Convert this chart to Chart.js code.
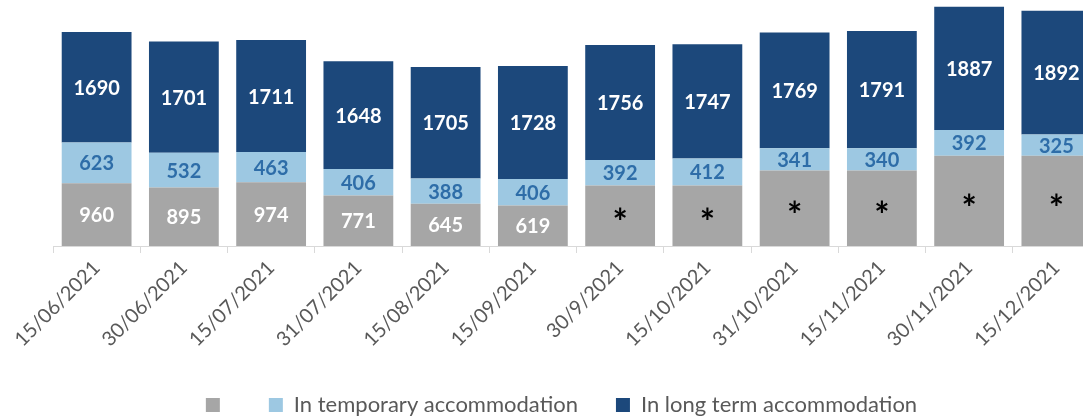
<!DOCTYPE html>
<html>
<head>
<meta charset="utf-8">
<script src="https://cdn.jsdelivr.net/npm/chart.js@4.4.1/dist/chart.umd.min.js"></script>
<style>
  html, body { margin: 0; padding: 0; background: #ffffff; overflow: hidden; }
  #wrap { position: relative; width: 1125px; height: 418px; }
</style>
</head>
<body>
<div id="wrap"><canvas id="c"></canvas></div>
<script>
const categories = ["15/06/2021","30/06/2021","15/07/2021","31/07/2021","15/08/2021","15/09/2021","30/9/2021","15/10/2021","31/10/2021","15/11/2021","30/11/2021","15/12/2021"];
const seriesNames = ["", "In temporary accommodation", "In long term accommodation"];
// grey series: last six values suppressed (shown as *) – heights
const greyValues = [960, 895, 974, 771, 645, 619, 925, 925, 1155, 1155, 1380, 1380];
const greyLabels = ["960","895","974","771","645","619","*","*","*","*","*","*"];
const temporaryValues = [623, 532, 463, 406, 388, 406, 392, 412, 341, 340, 392, 325];
const longTermValues = [1690, 1701, 1711, 1648, 1705, 1728, 1756, 1747, 1769, 1791, 1887, 1892];

const FONT = "Lato, 'Open Sans', sans-serif";

const labelPlugin = {
  id: 'barLabels',
  afterLayout(chart) {
    // nudge the centred legend row slightly left, as in the original
    chart.legend.left -= 15;
    chart.legend.right -= 15;
  },
  afterDatasetsDraw(chart) {
    const ctx = chart.ctx;
    ctx.save();
    ctx.textAlign = 'center';
    ctx.textBaseline = 'middle';
    chart.data.datasets.forEach((ds, di) => {
      const meta = chart.getDatasetMeta(di);
      meta.data.forEach((bar, i) => {
        const txt = ds.valueLabels[i];
        const cy = (bar.y + bar.base) / 2;
        if (txt === '*') {
          ctx.fillStyle = '#000000';
          ctx.font = "bold 36px " + FONT;
          ctx.fillText(txt, bar.x, cy + 8);
        } else {
          ctx.fillStyle = ds.labelColor;
          ctx.font = "bold 20px " + FONT;
          ctx.fillText(txt, bar.x, cy + 1);
        }
      });
    });
    ctx.restore();
  }
};

new Chart(document.getElementById('c'), {
  type: 'bar',
  data: {
    labels: categories,
    datasets: [
      { label: seriesNames[0], data: greyValues, valueLabels: greyLabels, backgroundColor: '#a6a6a6', labelColor: '#ffffff' },
      { label: seriesNames[1], data: temporaryValues, valueLabels: temporaryValues.map(String), backgroundColor: '#9dc8e2', labelColor: '#2e6da8' },
      { label: seriesNames[2], data: longTermValues, valueLabels: longTermValues.map(String), backgroundColor: '#1c487b', labelColor: '#ffffff' }
    ]
  },
  options: {
    responsive: true,
    maintainAspectRatio: false,
    animation: false,
    devicePixelRatio: 1,
    layout: { padding: { left: 53, right: 25, top: 4, bottom: -8 } },
    datasets: { bar: { barPercentage: 0.8, categoryPercentage: 1.0 } },
    plugins: {
      tooltip: { enabled: false },
      legend: {
        position: 'bottom',
        labels: {
          boxWidth: 14, boxHeight: 14, padding: 38,
          color: '#595959',
          font: { family: FONT, size: 22 }
        }
      }
    },
    scales: {
      x: {
        stacked: true,
        afterFit(scale) { scale.height += 1.6; },
        grid: { display: true, drawOnChartArea: false, offset: true, color: '#d9d9d9', tickLength: 7, tickColor: '#d9d9d9' },
        border: { display: true, color: '#d9d9d9', width: 1 },
        ticks: { color: '#595959', font: { family: FONT, size: 20 }, maxRotation: 45, minRotation: 45, autoSkip: false, padding: 3 }
      },
      y: {
        stacked: true,
        display: false,
        min: 0,
        max: 3700
      }
    }
  },
  plugins: [labelPlugin]
});
</script>
</body>
</html>
